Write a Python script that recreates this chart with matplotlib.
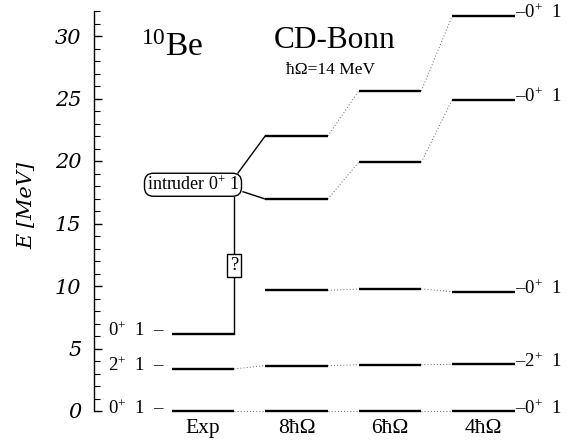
import matplotlib
matplotlib.use("Agg")
from matplotlib import pyplot as plt
from matplotlib.ticker import MultipleLocator

plt.rcParams['mathtext.fontset'] = 'custom'
plt.rcParams['mathtext.rm'] = 'Liberation Serif'
plt.rcParams['mathtext.it'] = 'Liberation Serif:italic'
plt.rcParams['mathtext.bf'] = 'Liberation Serif:bold'

# level energies in MeV
columns = ["Exp", "8ħΩ", "6ħΩ", "4ħΩ"]
exp_levels = [0.0, 3.37, 6.18]
exp_labels = ["$0^{+}$ 1", "$2^{+}$ 1", "$0^{+}$ 1"]
calc_levels = [
    [0.0, 3.63, 9.65, 16.96, 22.0],   # 8 hbar omega
    [0.0, 3.71, 9.76, 19.9, 25.6],    # 6 hbar omega
    [0.0, 3.73, 9.55, 24.9, 31.6],    # 4 hbar omega
]
calc_labels = ["$0^{+}$ 1", "$2^{+}$ 1", "$0^{+}$ 1", "$0^{+}$ 1", "$0^{+}$ 1"]
intruder_energy = 18.1
unknown_energy = 11.64

half = 0.335
serif = "Liberation Serif"
axfont = dict(family="DejaVu Serif", style="italic")

fig = plt.figure(figsize=(5.79, 4.41), dpi=100)
ax = fig.add_axes([94 / 579, 30 / 441, 473.6 / 579, 400 / 441])
ax.set_xlim(-1.166, 3.9)
ax.set_ylim(0, 32)

def level(x, e, lw=1.7):
    ax.plot([x - half, x + half], [e, e], color="black", lw=lw,
            solid_capstyle="butt", clip_on=False, zorder=3)

def dotted(x0, e0, x1, e1):
    ax.plot([x0 + half, x1 - half], [e0, e1], color="0.4", lw=0.7,
            ls=(0, (1, 2.2)), clip_on=False, zorder=2)

# experiment
for e, lab in zip(exp_levels, exp_labels):
    level(0, e)
    ax.text(-half - 0.07, e - 0.2, lab.replace(" ", "  ") + "  –", ha="right",
            va="baseline", fontsize=13.5, family=serif)

# calculations
for i, lv in enumerate(calc_levels):
    for e in lv:
        level(i + 1, e)
for i in range(len(calc_levels) - 1):
    for e0, e1 in zip(calc_levels[i], calc_levels[i + 1]):
        dotted(i + 1, e0, i + 2, e1)
for e0, e1 in zip(exp_levels[:2], calc_levels[0][:2]):
    dotted(0, e0, 1, e1)
for e, lab in zip(calc_levels[-1], calc_labels):
    ax.text(3 + half, e - 0.2, "–" + lab.replace(" ", "  "), ha="left",
            va="baseline", fontsize=13.5, family=serif)

# intruder state
ax.plot([half - 0.005, half - 0.005], [exp_levels[2], intruder_energy - 1],
        color="black", lw=1.0, zorder=2)
ax.plot([0.374, 1 - half], [19.04, calc_levels[0][4]], color="black", lw=1.0, zorder=2)
ax.plot([0.428, 1 - half], [17.54, calc_levels[0][3]], color="black", lw=1.0, zorder=2)
ax.text(-0.107, intruder_energy, "intruder $0^{+}$ 1", ha="center", va="center",
        fontsize=13, family=serif, zorder=4,
        bbox=dict(boxstyle="round,pad=0.12,rounding_size=0.5", fc="white",
                  ec="black", lw=1.0))
ax.text(half - 0.005, unknown_energy, "?", ha="center", va="center",
        fontsize=13.5, family=serif, zorder=4,
        bbox=dict(boxstyle="square,pad=0.15", fc="white", ec="black", lw=1.0))

# column names
for i, name in enumerate(columns):
    ax.text(i, -1.76, name, ha="center", va="baseline", fontsize=15.5,
            family=serif, clip_on=False)

# titles
ax.text(-0.33, 29.1, "$^{10}$Be", ha="center", va="center", fontsize=24, family=serif)
ax.text(1.41, 29.6, "CD-Bonn", ha="center", va="center", fontsize=22.5, family=serif)
ax.text(1.36, 27.3, "ħΩ=14 MeV", ha="center", va="center", fontsize=12.5, family=serif)

# axes
for s in ["top", "right", "bottom"]:
    ax.spines[s].set_visible(False)
ax.spines["left"].set_linewidth(1.0)
ax.set_xticks([])
ax.yaxis.set_major_locator(MultipleLocator(5))
ax.yaxis.set_minor_locator(MultipleLocator(1))
ax.tick_params(axis="y", which="major", direction="in", length=6, width=1.0, pad=9)
ax.tick_params(axis="y", which="minor", direction="in", length=4, width=0.8)
ax.set_yticks(range(0, 31, 5))
ax.set_yticklabels([str(v) for v in range(0, 31, 5)], fontsize=15, **axfont)
ax.set_ylabel("E [MeV]", fontsize=15, **axfont)
ax.yaxis.set_label_coords(-0.1415, 0.513)
ax.yaxis.label.set_va("center")

fig.savefig("out.png", dpi=100)
